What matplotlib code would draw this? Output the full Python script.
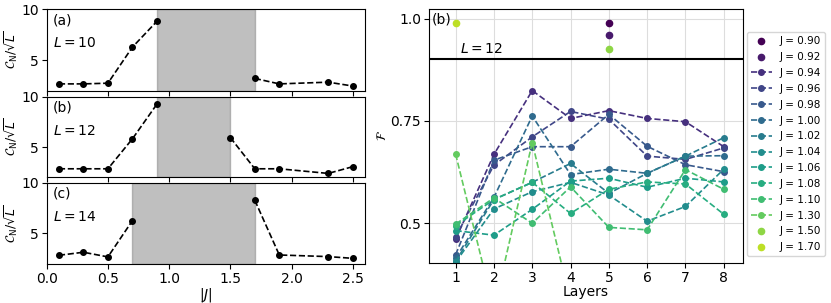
import numpy as np
import matplotlib.pyplot as plt

# left panels: C_N / sqrt(L) vs |J|
j_a = [0.1, 0.3, 0.5, 0.7, 0.9, 1.1, 1.3, 1.5, 1.7, 1.9, 2.3, 2.5]
c_a = [2.66, 2.66, 2.73, 6.28, 8.82, np.nan, np.nan, np.nan, 3.2, 2.66, 2.83, 2.45]
j_b = [0.1, 0.3, 0.5, 0.7, 0.9, 1.1, 1.3, 1.5, 1.7, 1.9, 2.3, 2.5]
c_b = [2.84, 2.84, 2.84, 5.81, 9.25, np.nan, np.nan, 5.94, 2.84, 2.84, 2.38, 3.05]
j_c = [0.1, 0.3, 0.5, 0.7, 0.9, 1.1, 1.3, 1.5, 1.7, 1.9, 2.3, 2.5]
c_c = [2.85, 3.15, 2.69, 6.26, np.nan, np.nan, np.nan, np.nan, 8.27, 2.88, 2.72, 2.55]
spans = [(0.9, 1.7), (0.9, 1.5), (0.7, 1.7)]
sizes = [10, 12, 14]

# right panel: fidelity vs layers, L = 12
layers = [1, 2, 3, 4, 5, 6, 7, 8]
J_all = [0.90, 0.92, 0.94, 0.96, 0.98, 1.00, 1.02, 1.04, 1.06, 1.08, 1.10, 1.30, 1.50, 1.70]
fid = {
    0.94: [0.461, 0.668, 0.824, 0.756, 0.775, 0.756, 0.748, 0.687],
    0.96: [0.467, 0.642, 0.711, 0.773, 0.754, 0.664, 0.656, 0.684],
    0.98: [0.423, 0.654, 0.687, 0.687, 0.766, 0.688, 0.643, 0.626],
    1.00: [0.415, 0.563, 0.762, 0.619, 0.632, 0.622, 0.664, 0.665],
    1.02: [0.407, 0.558, 0.600, 0.646, 0.573, 0.622, 0.664, 0.709],
    1.04: [0.405, 0.535, 0.577, 0.600, 0.569, 0.505, 0.541, 0.632],
    1.06: [0.482, 0.471, 0.534, 0.603, 0.610, 0.588, 0.610, 0.601],
    1.08: [0.494, 0.558, 0.600, 0.524, 0.583, 0.601, 0.596, 0.522],
    1.10: [0.498, 0.562, 0.500, 0.589, 0.490, 0.484, 0.631, 0.583],
    1.30: [0.669, 0.29, 0.697, 0.31, 0.30, 0.30, 0.30, 0.30],
}
# J values that only reached F > 0.9 at one depth
best = {0.90: (5, 0.990), 0.92: (5, 0.960), 1.50: (5, 0.925), 1.70: (1, 0.990)}

colors = plt.cm.viridis(np.linspace(0, 0.9, len(J_all)))

fig = plt.figure(figsize=(8.31, 3.03), dpi=100)

lefts = [(0.701, 0.969), (0.415, 0.681), (0.129, 0.397)]
xs = [j_a, j_b, j_c]
ys = [c_a, c_b, c_c]
labels = ['(a)', '(b)', '(c)']
axes_left = []
for i in range(3):
    b, t = lefts[i]
    ax = fig.add_axes([0.0562, b, 0.3830, t - b])
    ax.axvspan(*spans[i], color='gray', alpha=0.5, lw=1)
    ax.plot(xs[i], ys[i], 'k--', marker='o', markersize=4, lw=1.2)
    ax.set_xlim(0, 2.6)
    ax.set_ylim(2, 10)
    ax.set_yticks([5, 10])
    ax.set_ylabel(r'$\mathcal{C}_\mathrm{N}/\sqrt{L}$', fontsize=9, labelpad=1)
    ax.text(0.02, 0.95, labels[i], transform=ax.transAxes, fontsize=10, va='top')
    ax.text(0.02, 0.58, r'$L=%d$' % sizes[i], transform=ax.transAxes, fontsize=10, va='center')
    ax.tick_params(labelsize=10, pad=2)
    if i < 2:
        ax.set_xticklabels([])
    axes_left.append(ax)
axes_left[2].set_xticks([0.0, 0.5, 1.0, 1.5, 2.0, 2.5])
axes_left[2].set_xlabel(r'$|J|$', fontsize=10, labelpad=0)

ax = fig.add_axes([0.516, 0.132, 0.378, 0.838])
ax.grid(True, color='#dddddd', lw=0.8)
ax.set_axisbelow(True)
for k, J in enumerate(J_all):
    lab = 'J = %.2f' % J
    if J in fid:
        ax.plot(layers, fid[J], '--', marker='o', color=colors[k], markersize=4, lw=1.2, label=lab)
    else:
        l, f = best[J]
        ax.plot([l], [f], 'o', color=colors[k], markersize=4.5, ls='none', label=lab)
ax.axhline(0.9, color='k', lw=1.5)
ax.set_xlim(0.3, 8.5)
ax.set_ylim(0.403, 1.023)
ax.set_xticks(layers)
ax.set_yticks([0.5, 0.75, 1.0])
ax.set_yticklabels(['0.5', '0.75', '1.0'])
ax.tick_params(labelsize=10, pad=2)
ax.set_xlabel('Layers', fontsize=10, labelpad=0)
ax.set_ylabel(r'$\mathcal{F}$', fontsize=9, labelpad=1)
ax.text(0.01, 0.985, '(b)', transform=ax.transAxes, fontsize=10, va='top')
ax.text(1.12, 0.915, r'$L=12$', fontsize=10)
ax.legend(loc='upper left', bbox_to_anchor=(1.005, 0.917), fontsize=7.5,
          labelspacing=0.56, handlelength=2, borderaxespad=0.2)

fig.savefig('out.png', dpi=100)
